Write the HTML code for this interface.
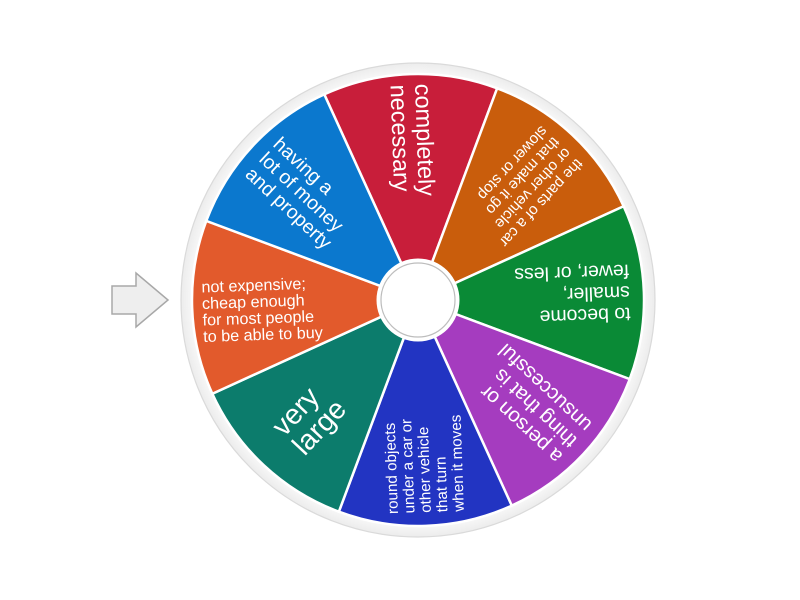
<!DOCTYPE html>
<html><head><meta charset="utf-8"><style>
html,body{margin:0;padding:0;background:#fff;width:800px;height:600px;overflow:hidden}
svg{display:block}
text{font-family:"Liberation Sans","DejaVu Sans",sans-serif;fill:#fff}
</style></head><body>
<svg width="800" height="600" viewBox="0 0 800 600">
<defs>
<path id="w" d="M0,0 L-86.5,-208.8 A226,226 0 0 1 86.5,-208.8 Z"/>
<radialGradient id="rim" cx="50%" cy="50%" r="50%">
<stop offset="92%" stop-color="#ffffff"/><stop offset="100%" stop-color="#ececec"/>
</radialGradient>
</defs>
<polygon points="112,286 136,286 136,273 168,300 136,327 136,314 112,314" fill="#eeeeee" stroke="#a8a8a8" stroke-width="1.5"/>
<circle cx="418" cy="300" r="237" fill="url(#rim)" stroke="#dadada" stroke-width="1.2"/>
<g transform="translate(418,300)" stroke="#fff" stroke-width="2.5">
<use href="#w" transform="rotate(-2)" fill="#c81e3a"/>
<use href="#w" transform="rotate(43)" fill="#c95d0c"/>
<use href="#w" transform="rotate(88)" fill="#0a8a36"/>
<use href="#w" transform="rotate(133)" fill="#a53cbf"/>
<use href="#w" transform="rotate(178)" fill="#2234c2"/>
<use href="#w" transform="rotate(223)" fill="#0c7c6c"/>
<use href="#w" transform="rotate(268)" fill="#e25a2c"/>
<use href="#w" transform="rotate(313)" fill="#0b78ce"/>
</g>
<g transform="translate(418,300)">
<circle r="41.5" fill="#fff"/>
<circle r="37" fill="#fff" stroke="#bdbdbd" stroke-width="1.2"/>
<g transform="rotate(88)" font-size="23.5"><text x="-216" y="-4.5">completely</text><text x="-216" y="20">necessary</text></g>
<g transform="rotate(133)" font-size="15.2"><text x="-212" y="-19">the parts of a car</text><text x="-212" y="-3">or other vehicle</text><text x="-212" y="13">that make it go</text><text x="-212" y="29">slower or stop</text></g>
<g transform="rotate(178)" font-size="19.5"><text x="-212" y="-15">to become</text><text x="-212" y="6.5">smaller,</text><text x="-212" y="28">fewer, or less</text></g>
<g transform="rotate(223)" font-size="20.5"><text x="-212" y="-14">a person or</text><text x="-212" y="7.5">thing that is</text><text x="-212" y="29">unsuccessful</text></g>
<g transform="rotate(268)" font-size="15.2"><text x="-213" y="-27.5">round objects</text><text x="-213" y="-11">under a car or</text><text x="-213" y="5.5">other vehicle</text><text x="-213" y="22">that turn</text><text x="-213" y="38.5">when it moves</text></g>
<g transform="rotate(313)" font-size="28.5"><text x="-192" y="-4">very</text><text x="-192" y="24">large</text></g>
<g transform="rotate(-2)" font-size="16.2"><text x="-216" y="-15">not expensive;</text><text x="-216" y="1.5">cheap enough</text><text x="-216" y="18">for most people</text><text x="-216" y="34.5">to be able to buy</text></g>
<g transform="rotate(43)" font-size="19.5"><text x="-212" y="-13.5">having a</text><text x="-212" y="7">lot of money</text><text x="-212" y="27.5">and property</text></g>
</g>
</svg>
</body></html>
